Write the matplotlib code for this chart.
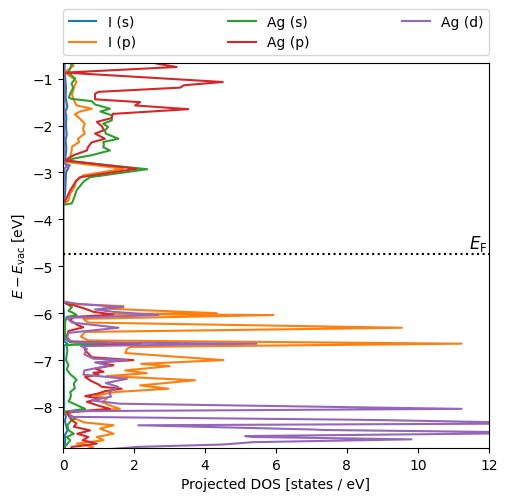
import matplotlib as mpl
mpl.use('agg')
import matplotlib.pyplot as plt

# energies [eV] and projected DOS values
e_is = [-0.6, -0.8, -1.0, -1.2, -1.4, -1.6, -1.7, -1.8, -2.0, -2.2, -2.3, -2.5, -2.7, -2.8, -2.9, -3.0,
        -3.2, -3.4, -3.6, -3.7, -5.8, -6.0, -6.3, -6.6, -6.65, -6.7, -7.0, -7.5, -8.0, -8.1, -8.2, -8.3,
        -8.5, -8.6, -8.7, -8.95]
d_is = [0.05, 0.04, 0.06, 0.08, 0.07, 0.12, 0.06, 0.09, 0.08, 0.1, 0.07, 0.09, 0.06, 0.04, 0.15, 0.08,
        0.07, 0.06, 0.03, 0.0, 0.0, 0.02, 0.02, 0.03, 0.12, 0.02, 0.02, 0.02, 0.03, 0.02, 0.08, 0.05,
        0.12, 0.05, 0.06, 0.03]

e_ip = [-0.6, -0.68, -0.72, -0.8, -0.87, -1.0, -1.07, -1.15, -1.34, -1.45, -1.57, -1.64, -1.70, -1.76,
        -1.85, -1.96, -2.07, -2.17, -2.28, -2.35, -2.45, -2.53, -2.66, -2.77, -2.92, -3.06, -3.17, -3.30,
        -3.45, -3.60, -3.66, -3.70, -5.75, -5.80, -5.85, -5.90, -6.0, -6.02, -6.04, -6.12, -6.2, -6.31,
        -6.40, -6.50, -6.58, -6.65, -6.72, -6.76, -6.85, -7.0, -7.08, -7.13, -7.22, -7.28, -7.34, -7.43,
        -7.54, -7.61, -7.68, -7.75, -7.82, -7.90, -7.96, -8.04, -8.08, -8.12, -8.18, -8.25, -8.33, -8.39,
        -8.46, -8.57, -8.64, -8.71, -8.78, -8.85, -8.95]
d_ip = [0.15, 0.2, 0.3, 0.15, 0.05, 0.3, 0.38, 0.32, 0.25, 0.3, 0.38, 0.81, 0.47, 0.33,
        0.47, 0.61, 0.56, 0.61, 0.42, 0.45, 0.25, 0.24, 0.2, 0.05, 1.7, 0.57, 0.36, 0.33,
        0.2, 0.15, 0.02, 0.0, 0.0, 0.1, 1.7, 1.1, 4.33, 1.2, 5.93, 0.57, 0.7, 9.55,
        0.62, 0.5, 0.7, 11.23, 1.9, 1.8, 1.75, 4.52, 2.2, 3.0, 1.75, 2.36, 1.23, 3.72,
        2.17, 2.97, 1.5, 0.9, 1.23, 1.1, 1.3, 1.6, 0.8, 0.05, 0.2, 0.34, 0.6, 1.42,
        1.04, 1.42, 0.95, 1.14, 0.38, 0.85, 0.5]

e_ags = [-0.6, -0.68, -0.75, -0.87, -1.0, -1.1, -1.2, -1.32, -1.40, -1.43, -1.48, -1.55, -1.64, -1.70,
         -1.78, -1.89, -1.96, -2.03, -2.10, -2.17, -2.28, -2.35, -2.40, -2.46, -2.53, -2.63, -2.70, -2.75,
         -2.93, -3.10, -3.20, -3.38, -3.60, -3.66, -3.69, -5.75, -5.80, -5.87, -5.95, -6.0, -6.04, -6.08,
         -6.2, -6.4, -6.55, -6.62, -6.65, -6.68, -6.8, -6.9, -7.0, -7.1, -7.2, -7.3, -7.36, -7.42, -7.5,
         -7.6, -7.68, -7.75, -7.82, -7.88, -8.04, -8.10, -8.25, -8.28, -8.39, -8.5, -8.57, -8.64, -8.71,
         -8.85, -8.95]
d_ags = [0.3, 0.25, 0.22, 0.15, 0.34, 0.24, 0.28, 0.2, 0.16, 0.24, 0.81, 0.9, 1.32, 1.05,
         1.37, 1.37, 1.13, 1.27, 1.18, 1.2, 1.56, 1.13, 1.15, 1.13, 1.32, 0.81, 0.31, 0.05,
         2.37, 0.76, 0.57, 0.38, 0.28, 0.24, 0.0, 0.0, 0.1, 0.25, 0.15, 0.3, 0.38, 0.1,
         0.05, 0.05, 0.06, 0.2, 1.23, 0.1, 0.12, 0.1, 0.08, 0.15, 0.1, 0.2, 0.29, 0.38, 0.3,
         0.33, 0.2, 0.22, 0.2, 0.15, 0.62, 0.05, 0.34, 0.24, 0.12, 0.16, 0.3, 0.1, 0.2,
         0.05, 0.05]

e_agp = [-0.6, -0.68, -0.75, -0.87, -1.07, -1.14, -1.19, -1.28, -1.32, -1.44, -1.50, -1.57, -1.65, -1.75,
         -1.84, -1.92, -2.02, -2.10, -2.17, -2.28, -2.36, -2.46, -2.53, -2.63, -2.74, -2.92, -3.10, -3.20,
         -3.38, -3.62, -3.66, -5.75, -5.80, -5.83, -5.90, -5.97, -6.03, -6.08, -6.15, -6.25, -6.30, -6.38,
         -6.5, -6.6, -6.65, -6.70, -6.79, -6.94, -7.0, -7.05, -7.11, -7.18, -7.25, -7.27, -7.31, -7.36,
         -7.45, -7.52, -7.57, -7.61, -7.66, -7.72, -7.77, -7.82, -7.89, -7.96, -8.04, -8.11, -8.18, -8.28,
         -8.35, -8.42, -8.50, -8.57, -8.64, -8.71, -8.78, -8.82, -8.85, -8.95]
d_agp = [2.3, 2.65, 3.2, 0.05, 4.5, 3.4, 3.3, 1.0, 0.9, 0.9, 2.17, 2.03, 3.53, 1.4,
         1.37, 0.95, 1.1, 1.15, 0.9, 1.18, 0.8, 0.7, 0.67, 0.3, 0.05, 2.07, 0.48, 0.35,
         0.2, 0.05, 0.0, 0.0, 0.1, 0.3, 0.6, 0.85, 1.42, 0.3, 0.2, 0.4, 0.57, 0.15,
         0.1, 0.2, 2.2, 0.6, 0.62, 0.81, 1.98, 0.95, 1.42, 0.9, 1.14, 0.85, 1.0, 0.62,
         0.8, 1.0, 1.09, 1.65, 1.2, 0.95, 0.62, 1.04, 0.67, 0.95, 1.32, 0.1, 0.15, 0.24,
         0.38, 0.3, 0.76, 0.4, 0.71, 0.55, 0.95, 0.6, 0.24, 0.2]

e_agd = [-0.6, -1.0, -2.0, -2.8, -2.85, -2.9, -3.0, -3.5, -3.7, -5.75, -5.80, -5.87, -5.92, -5.97,
         -6.04, -6.10, -6.2, -6.31, -6.42, -6.55, -6.62, -6.65, -6.70, -6.76, -6.88, -6.97, -7.00, -7.05,
         -7.12, -7.22, -7.31, -7.40, -7.49, -7.57, -7.68, -7.78, -7.86, -7.93, -8.04, -8.09, -8.21, -8.27,
         -8.28, -8.35, -8.39, -8.48, -8.49, -8.55, -8.62, -8.64, -8.69, -8.75, -8.80, -8.85, -8.95]
d_agd = [0.02, 0.03, 0.03, 0.02, 0.2, 0.05, 0.03, 0.01, 0.0, 0.0, 0.4, 1.7, 0.9, 1.4,
         2.69, 0.1, 0.25, 1.56, 0.15, 0.1, 0.3, 5.45, 0.5, 0.67, 0.6, 0.85, 1.8, 0.9,
         1.3, 0.6, 0.57, 1.8, 1.2, 1.55, 1.3, 1.35, 0.8, 1.6, 11.23, 0.2, 0.2, 7.99,
         8.98, 14.0, 2.12, 7.05, 7.33, 14.0, 5.13, 5.35, 9.82, 5.35, 4.52, 2.12, 0.5]

e_fermi = -4.73

fig = plt.figure(figsize=(5.05, 5.02), dpi=100)
ax = fig.add_axes([0.125, 0.106, 0.843, 0.767])

ax.plot(d_is, e_is, label="I (s)")
ax.plot(d_ip, e_ip, label="I (p)")
ax.plot(d_ags, e_ags, label="Ag (s)")
ax.plot(d_agp, e_agp, label="Ag (p)")
ax.plot(d_agd, e_agd, label="Ag (d)")

ax.axhline(e_fermi, color='k', linestyle=':')
ax.text(11.95, e_fermi + 0.02, r"$E_\mathrm{F}$", ha='right', va='bottom', fontsize=12)

ax.set_xlim(0, 12)
ax.set_ylim(-8.87, -0.66)
ax.set_xlabel("Projected DOS [states / eV]")
ax.set_ylabel(r"$E - E_\mathrm{vac}$ [eV]")

ax.legend(bbox_to_anchor=(0, 1.02, 1, 0.102), loc='lower left', ncol=3, mode='expand', borderaxespad=0.)

fig.savefig("out.png", dpi=100)
